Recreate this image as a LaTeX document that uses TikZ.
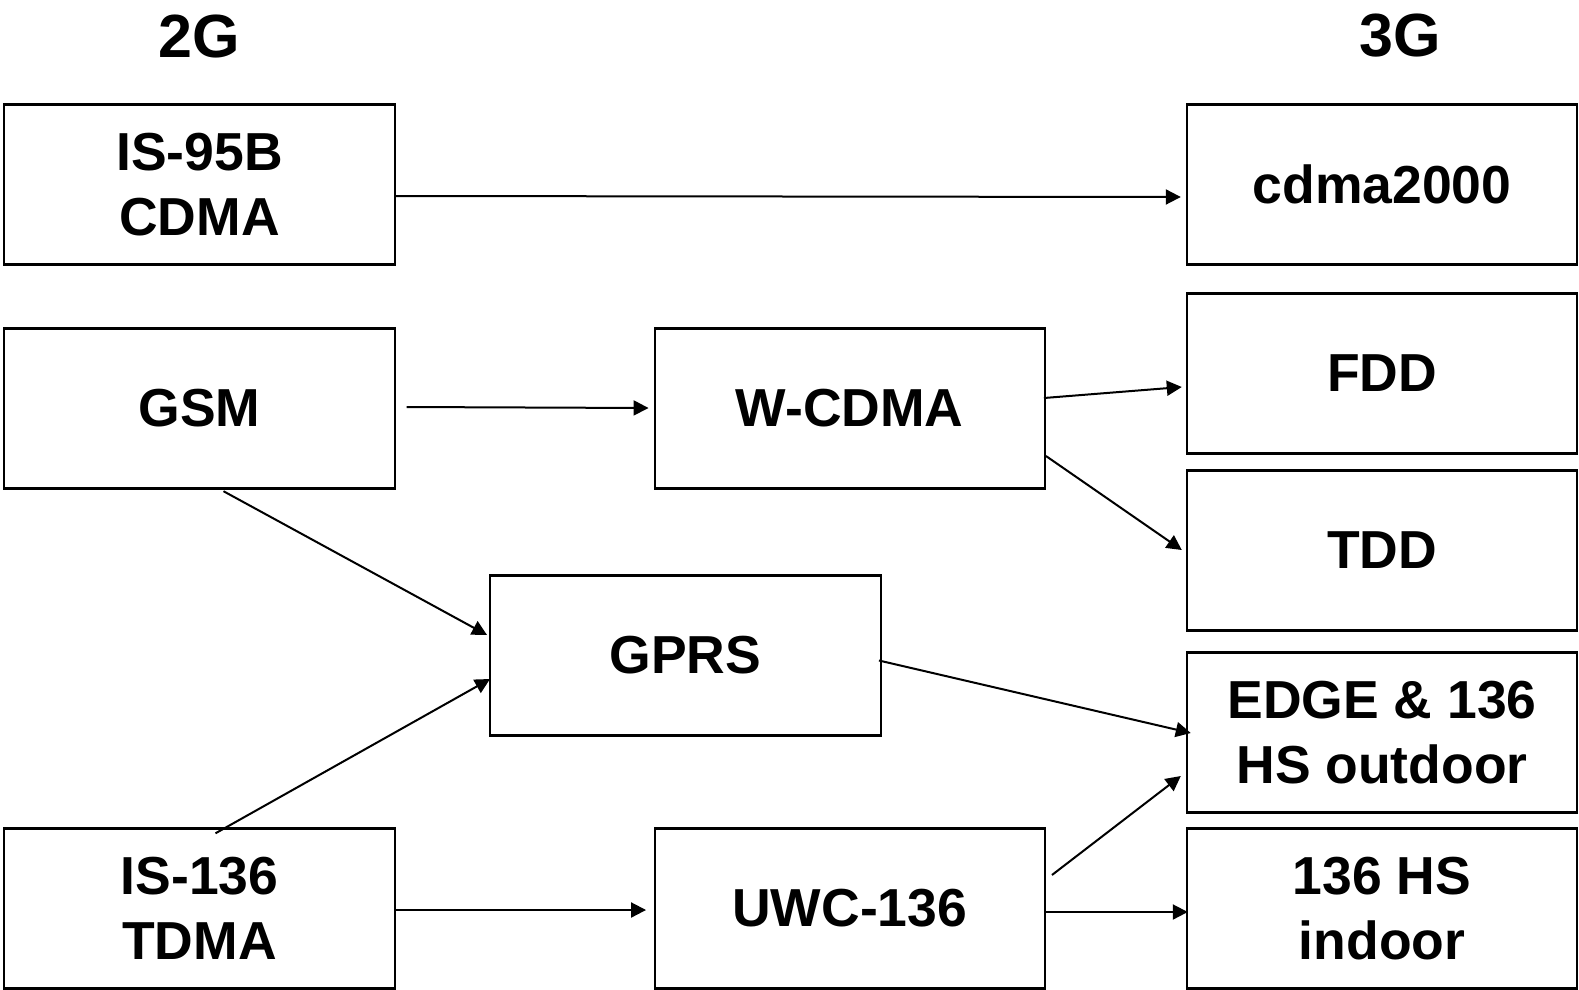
\documentclass[tikz,border=0pt]{standalone}
\usepackage{fontspec}
\setmainfont{Liberation Sans}
\usetikzlibrary{arrows.meta}
\begin{document}
\begin{tikzpicture}[x=1pt,y=-1pt,
  box/.style={draw, line width=2.4pt, rectangle, minimum width=391pt, minimum height=160pt,
    inner sep=0pt, align=center, font=\fontsize{53.5}{65}\selectfont\bfseries},
  head/.style={font=\fontsize{61}{70}\selectfont\bfseries},
  conn/.style={line width=2pt, -{Triangle[length=15pt,width=15pt]}}]
\useasboundingbox (0,0) rectangle (1579,989);
% generation headings
\node[head] (g2) at (199,36) {2G};
\node[head] (g3) at (1400,36) {3G};
% 2G systems
\node[box] (is95) at (199.5,184.5) {IS-95B\\CDMA};
\node[box] (gsm) at (199.5,408.5) {GSM};
\node[box] (is136) at (199.5,908.5) {IS-136\\TDMA};
% intermediate steps
\node[box, minimum width=390pt] (wcdma) at (849.75,408.5) {W-CDMA};
\node[box] (gprs) at (685.25,655.5) {GPRS};
\node[box, minimum width=390pt] (uwc) at (849.75,908.5) {UWC-136};
% 3G systems
\node[box, minimum width=390pt] (cdma) at (1382,184.5) {cdma2000};
\node[box, minimum width=390pt] (fdd) at (1382,373.5) {FDD};
\node[box, minimum width=390pt] (tdd) at (1382,550.5) {TDD};
\node[box, minimum width=390pt] (edge) at (1382,732.5) {EDGE \& 136\\HS outdoor};
\node[box, minimum width=390pt] (indoor) at (1382,908.5) {136 HS\\indoor};
% evolution paths
\draw[conn] ([shift={(0,11.5)}]is95.east) -- ([shift={(-5,12.5)}]cdma.west);
\draw[conn] ([shift={(10.5,-1.5)}]gsm.east) -- ([shift={(-5,-0.5)}]wcdma.west);
\draw[conn] ([shift={(-2,-10.5)}]wcdma.east) -- ([shift={(-4,13.5)}]fdd.west);
\draw[conn] ([shift={(0,47.5)}]wcdma.east) -- ([shift={(-4,-0.5)}]tdd.west);
\draw[conn] ([shift={(24,1.5)}]gsm.south) -- ([shift={(-1.5,-20.5)}]gprs.west);
\draw[conn] ([shift={(16,6)}]is136.north) -- ([shift={(1.5,23.5)}]gprs.west);
\draw[conn] ([shift={(-3,5)}]gprs.east) -- ([shift={(5,0.5)}]edge.west);
\draw[conn] ([shift={(6,-33.5)}]uwc.east) -- ([shift={(-5,43.5)}]edge.west);
\draw[conn] ([shift={(-1,3.5)}]uwc.east) -- ([shift={(2,3.5)}]indoor.west);
\draw[conn] ([shift={(0,1.5)}]is136.east) -- ([shift={(-7.5,1.5)}]uwc.west);
\end{tikzpicture}
\end{document}
